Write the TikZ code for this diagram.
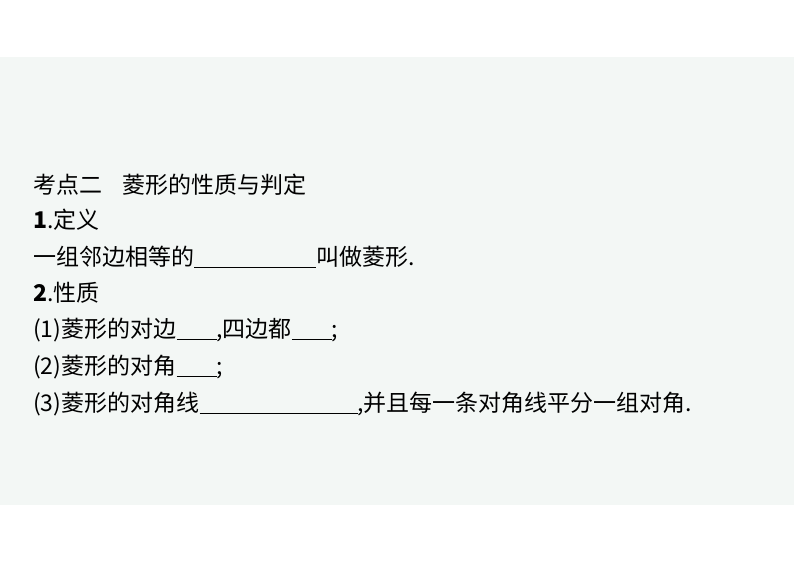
\documentclass[tikz,border=0pt]{standalone}
\usepackage{fontspec}
\setmainfont{Liberation Serif}
\newfontfamily\cjk{Noto Sans CJK SC}
\newcommand{\blank}[1]{\rule[-2pt]{#1pt}{0.6pt}}
\begin{document}
\begin{tikzpicture}[x=1pt,y=1pt,
  ln/.style={anchor=base west,inner sep=0pt,font=\fontsize{23}{23}\selectfont\cjk}]
\useasboundingbox (0,0) rectangle (794,562);
\fill[white] (0,0) rectangle (794,562);
\fill[color={rgb,255:red,243;green,247;blue,245}] (0,57) rectangle (794,505);
\node[ln] (t0) at (33,368) {考点二\hspace{0.9em}菱形的性质与判定};
\node[ln] (t1) at (33,333) {\textbf{1}.定义};
\node[ln] (t2) at (33,296) {一组邻边相等的\blank{122}叫做菱形.};
\node[ln] (t3) at (33,260) {\textbf{2}.性质};
\node[ln] (t4) at (33,224) {(1)菱形的对边\blank{40},四边都\blank{40};};
\node[ln] (t5) at (33,187) {(2)菱形的对角\blank{40};};
\node[ln] (t6) at (33,150) {(3)菱形的对角线\blank{158},并且每一条对角线平分一组对角.};
\end{tikzpicture}
\end{document}
